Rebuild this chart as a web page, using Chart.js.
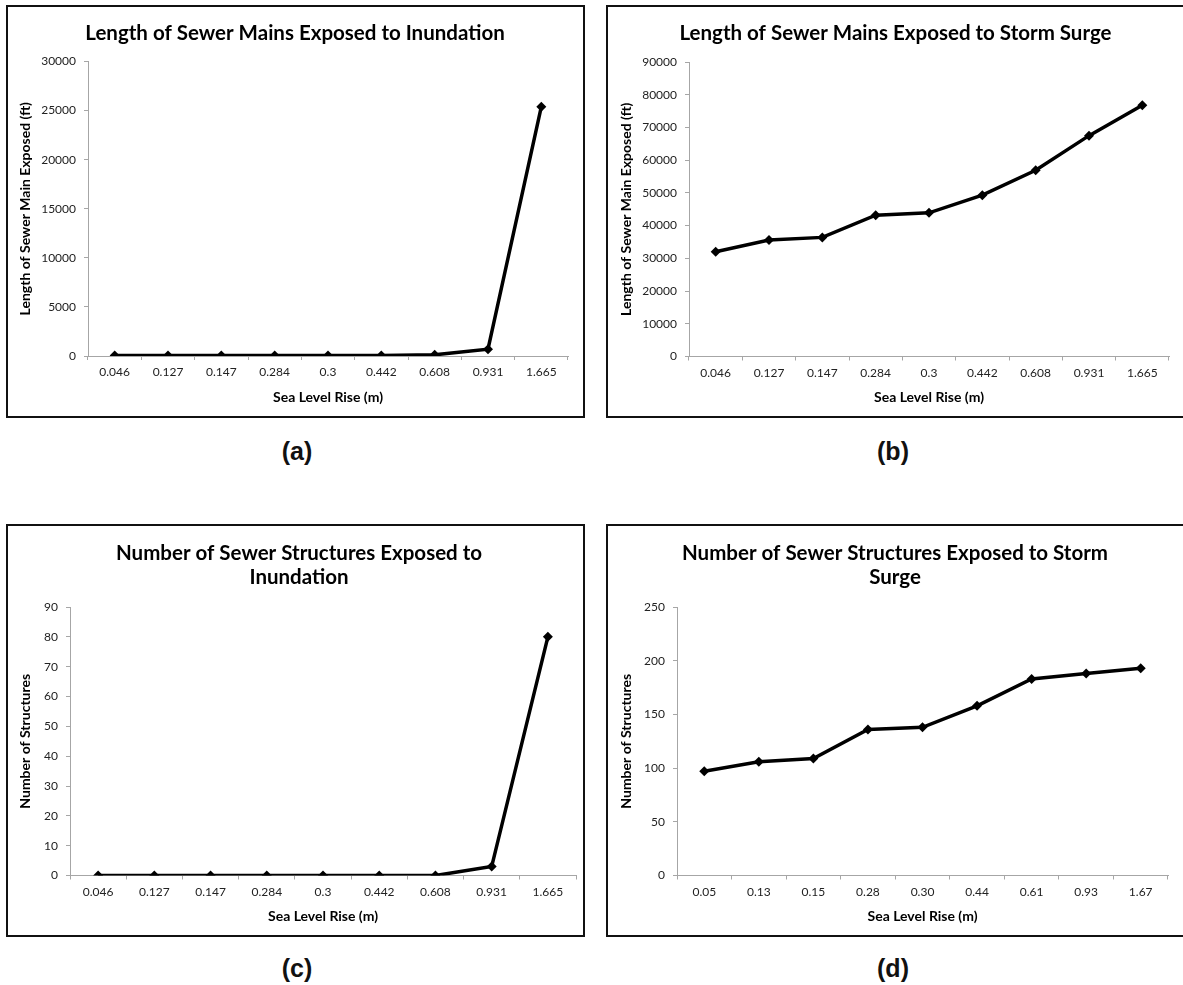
<!DOCTYPE html>
<html>
<head>
<meta charset="utf-8">
<script src="https://cdn.jsdelivr.net/npm/chart.js@4.4.1/dist/chart.umd.min.js"></script>
<style>
  html, body { margin: 0; padding: 0; background: #fff; overflow: hidden; }
  body { width: 1183px; height: 985px; position: relative; }
  .box { position: absolute; width: 575px; height: 409px; border: 2px solid #111; }
  .box canvas { display: block; }
  .cap { position: absolute; width: 120px; text-align: center; font: bold 25px "Liberation Sans", Arial, sans-serif; color: #111; }
</style>
</head>
<body>
<div class="box" style="left:6px; top:5px;"><canvas id="chartA" width="575" height="409"></canvas></div>
<div class="box" style="left:606px; top:5px;"><canvas id="chartB" width="575" height="409"></canvas></div>
<div class="box" style="left:6px; top:524px;"><canvas id="chartC" width="575" height="409"></canvas></div>
<div class="box" style="left:606px; top:524px;"><canvas id="chartD" width="575" height="409"></canvas></div>
<div class="cap" style="left:237px; top:437px;">(a)</div>
<div class="cap" style="left:833px; top:437px;">(b)</div>
<div class="cap" style="left:237px; top:954px;">(c)</div>
<div class="cap" style="left:833px; top:954px;">(d)</div>
<script>
// sea level rise scenarios (m)
const seaLevelRise = ['0.046', '0.127', '0.147', '0.284', '0.3', '0.442', '0.608', '0.931', '1.665'];
const seaLevelRiseRounded = ['0.05', '0.13', '0.15', '0.28', '0.30', '0.44', '0.61', '0.93', '1.67'];

// length of sewer mains exposed (ft)
const mainsInundation = [60, 60, 60, 60, 60, 60, 120, 700, 25400];
const mainsStormSurge = [32000, 35600, 36400, 43200, 43900, 49300, 56900, 67500, 76800];

// number of sewer structures exposed
const structuresInundation = [0, 0, 0, 0, 0, 0, 0, 3, 80];
const structuresStormSurge = [97, 106, 109, 136, 138, 158, 183, 188, 193];

const W = 575, H = 409;
const padLeft = 14; // nudges the centred chart title a little to the right
const axisGrey = '#a6a6a6';
const font = 'Lato';

function makeChart(id, labels, values, o) {
    const lines = Array.isArray(o.title) ? o.title.length : 1;
    const tTop = o.titleCenter - 12;
    const tBottom = o.plotT - tTop - 24 * lines;
    return new Chart(document.getElementById(id), {
        type: 'line',
        data: {
            labels: labels,
            datasets: [{
                data: values,
                borderColor: '#000',
                backgroundColor: '#000',
                borderWidth: 3.5,
                pointStyle: 'rectRot',
                pointRadius: 5,
                pointBackgroundColor: '#000',
                pointBorderWidth: 0,
                tension: 0
            }]
        },
        options: {
            animation: false,
            responsive: false,
            devicePixelRatio: 1,
            layout: { padding: { left: padLeft, right: W - o.plotR, top: 0, bottom: 0 } },
            plugins: {
                legend: { display: false },
                tooltip: { enabled: false },
                title: {
                    display: true,
                    text: o.title,
                    color: '#000',
                    font: { family: font, size: 20.5, weight: 'bold', lineHeight: 24 / 20.5 },
                    padding: { top: tTop, bottom: tBottom }
                }
            },
            scales: {
                x: {
                    offset: true,
                    grid: { offset: true, drawOnChartArea: false, drawTicks: true, tickLength: 4, color: axisGrey },
                    border: { color: axisGrey },
                    ticks: { color: '#222', font: { family: font, size: 12 }, padding: 5, maxRotation: 0, autoSkip: false },
                    title: {
                        display: true,
                        text: 'Sea Level Rise (m)',
                        color: '#000',
                        font: { family: font, size: 14, weight: 'bold' },
                        padding: { top: 4, bottom: 10 }
                    },
                    afterFit: s => { s.height = H - o.plotB; }
                },
                y: {
                    min: 0,
                    max: o.yMax,
                    grid: { drawOnChartArea: false, drawTicks: true, tickLength: 4, color: axisGrey },
                    border: { color: axisGrey },
                    ticks: { stepSize: o.yStep, color: '#222', font: { family: font, size: 12 }, padding: 8, callback: v => String(v) },
                    title: {
                        display: true,
                        text: o.yTitle,
                        color: '#000',
                        font: { family: font, size: 14, weight: 'bold' },
                        padding: { top: o.yTitleX - 8.4 - padLeft, bottom: 0 }
                    },
                    afterFit: s => { s.width = o.plotL - padLeft; }
                }
            }
        }
    });
}

makeChart('chartA', seaLevelRise, mainsInundation, {
    title: 'Length of Sewer Mains Exposed to Inundation',
    yTitle: 'Length of Sewer Main Exposed (ft)',
    yMax: 30000, yStep: 5000,
    plotL: 80, plotR: 560, plotT: 54.5, plotB: 349, titleCenter: 26, yTitleX: 17
});
makeChart('chartB', seaLevelRise, mainsStormSurge, {
    title: 'Length of Sewer Mains Exposed to Storm Surge',
    yTitle: 'Length of Sewer Main Exposed (ft)',
    yMax: 90000, yStep: 10000,
    plotL: 81, plotR: 561, plotT: 55, plotB: 349.5, titleCenter: 26, yTitleX: 18.5
});
makeChart('chartC', seaLevelRise, structuresInundation, {
    title: ['Number of Sewer Structures Exposed to', 'Inundation'],
    yTitle: 'Number of Structures',
    yMax: 90, yStep: 10,
    plotL: 62, plotR: 568, plotT: 81, plotB: 349.5, titleCenter: 27, yTitleX: 17
});
makeChart('chartD', seaLevelRiseRounded, structuresStormSurge, {
    title: ['Number of Sewer Structures Exposed to Storm', 'Surge'],
    yTitle: 'Number of Structures',
    yMax: 250, yStep: 50,
    plotL: 69, plotR: 560, plotT: 81, plotB: 349.5, titleCenter: 27, yTitleX: 18.5
});
</script>
</body>
</html>
